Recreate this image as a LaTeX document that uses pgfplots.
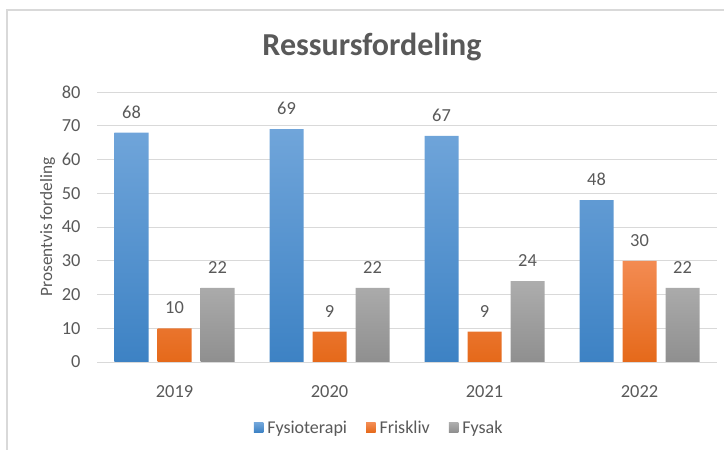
\documentclass[border=0pt]{standalone}
\usepackage{pgfplots}
\pgfplotsset{compat=1.18}
\usepackage{fontspec}
\setmainfont{Carlito}
\definecolor{txt}{HTML}{595959}
\definecolor{gridc}{HTML}{D9D9D9}
\definecolor{blueT}{HTML}{70A5DA}
\definecolor{blueB}{HTML}{3D82C4}
\definecolor{oraT}{HTML}{F38B52}
\definecolor{oraB}{HTML}{E5691A}
\definecolor{grayT}{HTML}{ADADAD}
\definecolor{grayB}{HTML}{8F8F8F}
\begin{document}
\begin{tikzpicture}
\useasboundingbox (0,0) rectangle (724bp,450bp);
\draw[gridc, line width=1.5bp] (7bp,0) -- (7bp,440bp) -- (724bp,440bp);
\node[font=\fontsize{32bp}{36bp}\selectfont\bfseries, text=txt] at (372bp,403bp) {Ressursfordeling};
\begin{axis}[
 at={(97bp,88bp)}, anchor=south west,
 scale only axis, width=620bp, height=270bp,
 ybar=9bp, bar width=34bp,
 xmin=-0.5, xmax=3.5, ymin=0, ymax=80,
 xtick={0,1,2,3}, xticklabels={2019,2020,2021,2022},
 ytick={0,10,...,80},
 major tick length=0pt,
 axis line style={draw=none},
 ymajorgrids, grid style={gridc, line width=1bp},
 tick label style={font=\fontsize{18.4bp}{21bp}\selectfont, text=txt},
 xticklabel style={yshift=-20bp},
 yticklabel style={xshift=-13bp},
 /pgf/number format/assume math mode=true,
 ylabel={Prosentvis fordeling},
 ylabel style={at={(axis description cs:-0.062,0.5)}, anchor=south, font=\fontsize{17.3bp}{20bp}\selectfont, text=txt},
 nodes near coords,
 every node near coord/.append style={font=\fontsize{18.4bp}{21bp}\selectfont, text=txt, inner sep=0pt, anchor=south, yshift=14bp},
 legend columns=-1,
 legend style={at={(0.455,-0.244)}, anchor=center, draw=none, font=\fontsize{18bp}{21bp}\selectfont, text=txt,
   /tikz/every odd column/.append style={column sep=2bp},
   /tikz/every even column/.append style={column sep=17bp}},
 legend image code/.code={\path[#1] (0bp,-4.5bp) rectangle (9.5bp,5bp);},
]
\addplot[draw=none, top color=blueT, bottom color=blueB] coordinates {(0,68) (1,69) (2,67) (3,48)};
\addplot[draw=none, top color=oraT, bottom color=oraB] coordinates {(0,10) (1,9) (2,9) (3,30)};
\addplot[draw=none, top color=grayT, bottom color=grayB] coordinates {(0,22) (1,22) (2,24) (3,22)};
\legend{Fysioterapi, Friskliv, Fysak}
\end{axis}
\end{tikzpicture}
\end{document}
